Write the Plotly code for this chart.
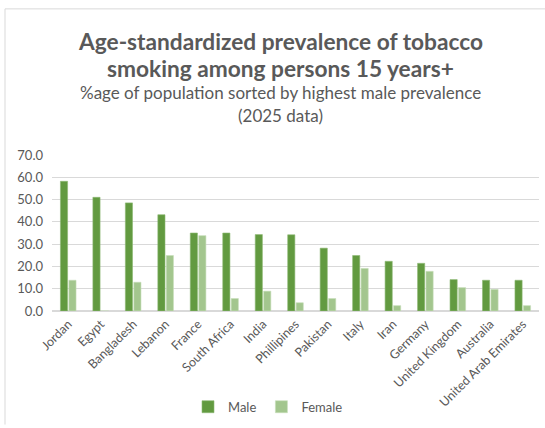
import plotly.graph_objects as go

countries = ["Jordan", "Egypt", "Bangladesh", "Lebanon", "France", "South Africa", "India",
             "Phillipines", "Pakistan", "Italy", "Iran", "Germany", "United Kingdom",
             "Australia", "United Arab Emirates"]
male = [58.2, 51.0, 48.5, 43.2, 35.0, 35.0, 34.3, 34.2, 28.2, 24.9, 22.3, 21.4, 14.1, 13.8, 13.8]
female = [13.8, 0.0, 12.9, 24.9, 33.8, 5.6, 8.9, 3.7, 5.6, 19.1, 2.4, 17.8, 10.5, 9.7, 2.4]
y_ticks = [0, 10, 20, 30, 40, 50, 60, 70]

W, H = 545, 428
L, R, T, B = 52, 6, 155, 115
pw, ph = W - L - R, H - T - B

def px_x(x):
    return (x - L) / pw

def px_y(y):
    return 1 - (y - T) / ph

FONT = "Lato"
GRAY = "#595959"

fig = go.Figure()
fig.add_trace(go.Bar(x=countries, y=male, name="Male",
                     marker=dict(color="#629A40", line=dict(color="#8DB873", width=0.6))))
fig.add_trace(go.Bar(x=countries, y=female, name="Female",
                     marker=dict(color="#A3C68E", line=dict(color="#C6DDB8", width=0.6))))

fig.update_layout(
    width=W, height=H,
    margin=dict(l=L, r=R, t=T, b=B),
    paper_bgcolor="white", plot_bgcolor="white",
    font=dict(family=FONT, color=GRAY),
    barmode="group", bargap=0.48, bargroupgap=0.15,
    showlegend=True,
    legend=dict(orientation="h", x=px_x(268), xanchor="center", y=px_y(410), yanchor="middle",
                font=dict(size=13, color=GRAY), itemwidth=30, traceorder="normal"),
    xaxis=dict(tickangle=-45, tickfont=dict(size=12.5, color=GRAY), showgrid=False,
               showline=True, linecolor="#D9D9D9", ticks=""),
    yaxis=dict(range=[0, 70], tickvals=y_ticks, tickformat=".1f",
               tickfont=dict(size=13, color=GRAY), gridcolor="#D9D9D9", gridwidth=1,
               zeroline=True, zerolinecolor="#D9D9D9", showline=False, ticks="",
               ticklabelstandoff=8),
)

annots = [
    ("Age-standardized prevalence of tobacco", 40, 22.7, True),
    ("smoking among persons 15 years+", 67, 22.7, True),
    ("%age of population sorted by highest male prevalence", 92, 17, False),
    ("(2025 data)", 115, 17, False),
]
for text, yy, size, bold in annots:
    fig.add_annotation(text=f"<b>{text}</b>" if bold else text, xref="paper", yref="paper",
                       x=px_x(280), y=px_y(yy), xanchor="center", yanchor="middle",
                       showarrow=False, font=dict(size=size, color=GRAY, family=FONT))

fig.add_shape(type="line", xref="paper", yref="paper", x0=px_x(5), x1=px_x(545),
              y0=px_y(7), y1=px_y(7), line=dict(color="#D9D9D9", width=1))
fig.add_shape(type="line", xref="paper", yref="paper", x0=px_x(5), x1=px_x(5),
              y0=px_y(7), y1=px_y(428), line=dict(color="#D9D9D9", width=1))

fig.write_html("out.html")
